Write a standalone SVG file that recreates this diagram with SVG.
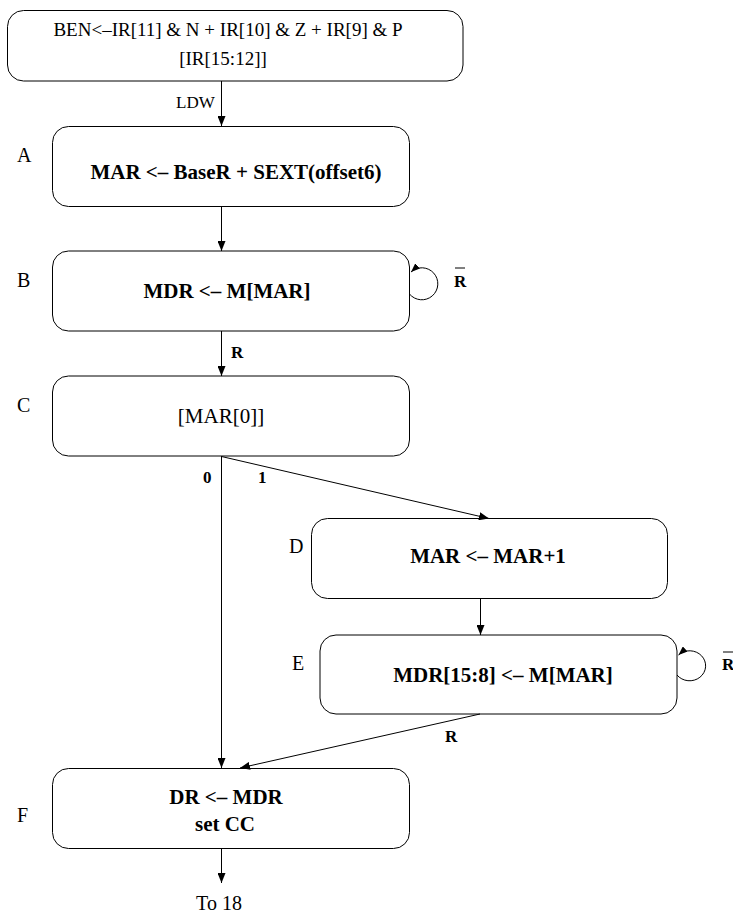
<svg xmlns="http://www.w3.org/2000/svg" width="733" height="914" viewBox="0 0 733 914">
<style>
.box{fill:#fff;stroke:#000;stroke-width:1}
.t{font-family:"Liberation Serif","Times New Roman",serif;fill:#000}
.r{font-size:19px}
.b{font-size:21px;font-weight:bold}
.lb{font-size:20px}
.sb{font-size:17px;font-weight:bold}
.e{fill:none;stroke:#000;stroke-width:1}
</style>
<defs>
<marker id="ah" markerWidth="10" markerHeight="8" refX="10" refY="4" orient="auto" markerUnits="userSpaceOnUse">
<path d="M0,0 L10,4 L0,8 Z" fill="#000"/>
</marker>
<marker id="ahs" markerWidth="9" markerHeight="7" refX="9" refY="3.5" orient="auto" markerUnits="userSpaceOnUse">
<path d="M0,0 L9,3.5 L0,7 Z" fill="#000"/>
</marker>
</defs>
<rect width="733" height="914" fill="#fff"/>

<g id="start">
<rect class="box" x="7.5" y="10.5" width="455.5" height="70.5" rx="16"/>
<text class="t r" x="228" y="36" text-anchor="middle">BEN&lt;–IR[11] &amp; N + IR[10] &amp; Z + IR[9] &amp; P</text>
<text class="t r" x="223" y="65" text-anchor="middle">[IR[15:12]]</text>
</g>

<g id="A">
<rect class="box" x="52.5" y="126.5" width="357" height="80" rx="16"/>
<text class="t lb" x="17" y="162">A</text>
<text class="t b" x="236" y="179" text-anchor="middle">MAR &lt;– BaseR + SEXT(offset6)</text>
</g>

<g id="B">
<rect class="box" x="52.5" y="251" width="357" height="80" rx="16"/>
<text class="t lb" x="17" y="287">B</text>
<text class="t b" x="227" y="298" text-anchor="middle">MDR &lt;– M[MAR]</text>
</g>

<g id="C">
<rect class="box" x="52.5" y="376" width="357" height="80" rx="16"/>
<text class="t lb" x="17" y="412">C</text>
<text class="t" x="221" y="423" text-anchor="middle" font-size="21">[MAR[0]]</text>
</g>

<g id="D">
<rect class="box" x="311.5" y="518.5" width="356" height="80" rx="16"/>
<text class="t lb" x="289" y="553">D</text>
<text class="t b" x="488" y="563" text-anchor="middle">MAR &lt;– MAR+1</text>
</g>

<g id="E">
<rect class="box" x="320" y="635" width="357" height="79" rx="16"/>
<text class="t lb" x="292" y="670">E</text>
<text class="t b" x="503" y="682" text-anchor="middle">MDR[15:8] &lt;– M[MAR]</text>
</g>

<g id="F">
<rect class="box" x="52.5" y="768.5" width="357" height="80" rx="16"/>
<text class="t lb" x="17" y="822">F</text>
<text class="t b" x="226" y="804" text-anchor="middle">DR &lt;– MDR</text>
<text class="t b" x="225" y="831" text-anchor="middle">set CC</text>
</g>

<g id="end">
<text class="t lb" x="219" y="910" text-anchor="middle">To 18</text>
</g>

<g id="connectors">
<line class="e" x1="221.5" y1="81" x2="221.5" y2="126" marker-end="url(#ah)"/>
<text class="t" font-size="17" x="176" y="108">LDW</text>

<line class="e" x1="221.5" y1="207" x2="221.5" y2="251" marker-end="url(#ah)"/>

<path class="e" d="M409.5,294 A16,16 0 1 0 411,272" marker-end="url(#ahs)"/>
<text class="t sb" x="454" y="287">R</text>
<line class="e" x1="455" y1="268" x2="465" y2="268" stroke-width="1.3"/>

<line class="e" x1="221.5" y1="331" x2="221.5" y2="376" marker-end="url(#ah)"/>
<text class="t sb" x="231" y="358">R</text>

<line class="e" x1="221.5" y1="456" x2="221.5" y2="768" marker-end="url(#ah)"/>
<text class="t sb" x="203" y="483">0</text>
<line class="e" x1="221.5" y1="456.5" x2="489" y2="518.5" marker-end="url(#ah)"/>
<text class="t sb" x="258" y="483">1</text>

<line class="e" x1="480.5" y1="599" x2="480.5" y2="635" marker-end="url(#ah)"/>

<path class="e" d="M677,675 A16,15 0 1 0 678.5,655" marker-end="url(#ahs)"/>
<text class="t sb" x="722" y="670">R</text>
<line class="e" x1="723" y1="652" x2="733" y2="652" stroke-width="1.3"/>

<line class="e" x1="480" y1="714" x2="240" y2="768" marker-end="url(#ah)"/>
<text class="t sb" x="445" y="742">R</text>

<line class="e" x1="221.5" y1="849" x2="221.5" y2="883" marker-end="url(#ah)"/>
</g>
</svg>
